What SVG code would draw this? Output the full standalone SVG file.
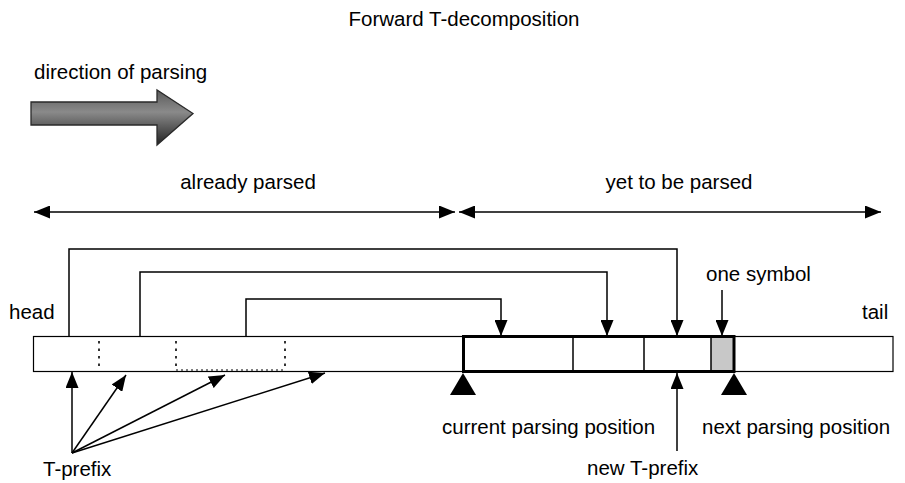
<svg xmlns="http://www.w3.org/2000/svg" width="905" height="483" viewBox="0 0 905 483">
  <style>
    text { font-family: "Liberation Sans", Arial, sans-serif; font-size: 20.5px; fill: #000; }
    .line { fill: none; stroke: #000; stroke-width: 1.5; }
    .strip { fill: #fff; stroke: #000; stroke-width: 1.2; }
    .dot { fill: none; stroke: #000; stroke-width: 1.6; stroke-dasharray: 2.5 5; }
    .dash { fill: none; stroke: #000; stroke-width: 1; stroke-dasharray: 2 3; }
    .bold { fill: none; stroke: #000; stroke-width: 3; }
    .pos { fill: #000; }
  </style>
  <defs>
    <marker id="ah" viewBox="0 0 16 13" refX="16" refY="6.5" markerWidth="16" markerHeight="13" markerUnits="userSpaceOnUse" orient="auto-start-reverse">
      <path d="M0,0 L16,6.5 L0,13 z" fill="#000"/>
    </marker>
    <linearGradient id="bigArrowFill" x1="0" y1="0" x2="0" y2="1">
      <stop offset="0" stop-color="#5a5a5a"/>
      <stop offset="0.4" stop-color="#8a8a8a"/>
      <stop offset="1" stop-color="#222"/>
    </linearGradient>
  </defs>

  <text x="464" y="26" text-anchor="middle">Forward T-decomposition</text>

  <!-- direction indicator -->
  <g id="direction">
    <text x="34" y="79">direction of parsing</text>
    <path d="M31,102 H157 V90 L193,113.5 L157,145 V125 H31 z" fill="url(#bigArrowFill)" stroke="#2a2a2a" stroke-width="1.3"/>
  </g>

  <!-- extent labels -->
  <g id="already-parsed">
    <text x="248" y="189" text-anchor="middle">already parsed</text>
  </g>
  <g id="yet-to-be-parsed">
    <text x="679" y="189" text-anchor="middle">yet to be parsed</text>
  </g>

  <!-- the symbol sequence -->
  <g id="sequence">
    <rect class="strip" x="33.5" y="336.5" width="859.5" height="35"/>
    <line class="dot" x1="99" y1="341" x2="99" y2="370"/>
    <line class="dot" x1="176" y1="341" x2="176" y2="370"/>
    <line class="dot" x1="285" y1="341" x2="285" y2="370"/>
    <line class="dash" x1="176" y1="370" x2="285" y2="370"/>
    <text x="9" y="319">head</text>
    <text x="862" y="319">tail</text>
  </g>

  <!-- current factor -->
  <g id="factor">
    <rect x="711" y="337" width="23" height="34" fill="#c8c8c8"/>
    <line class="line" x1="573" y1="337" x2="573" y2="371"/>
    <line class="line" x1="644" y1="337" x2="644" y2="371"/>
    <line class="line" x1="711" y1="337" x2="711" y2="371"/>
    <rect class="bold" x="463.5" y="336.5" width="270.5" height="35"/>
  </g>

  <g id="current-position">
    <path class="pos" d="M463,373 L476,395 L450,395 z"/>
    <text x="442" y="434">current parsing position</text>
  </g>
  <g id="next-position">
    <path class="pos" d="M734,373 L747,395 L721,395 z"/>
    <text x="702" y="434">next parsing position</text>
  </g>
  <g id="one-symbol">
    <text x="706" y="281">one symbol</text>
  </g>
  <g id="new-t-prefix">
    <text x="587" y="475">new T-prefix</text>
  </g>
  <g id="t-prefix">
    <text x="43" y="476">T-prefix</text>
  </g>

  <!-- connectors -->
  <g id="connectors">
    <line class="line" x1="34" y1="212" x2="455" y2="212" marker-start="url(#ah)" marker-end="url(#ah)"/>
    <line class="line" x1="459" y1="212" x2="881" y2="212" marker-start="url(#ah)" marker-end="url(#ah)"/>

    <path class="line" d="M69,336 V249 H677 V336" marker-end="url(#ah)"/>
    <path class="line" d="M140,336 V272 H607 V336" marker-end="url(#ah)"/>
    <path class="line" d="M246,336 V299 H501 V336" marker-end="url(#ah)"/>

    <line class="line" x1="722" y1="290" x2="722" y2="336" marker-end="url(#ah)"/>
    <line class="line" x1="677" y1="451" x2="677" y2="373" marker-end="url(#ah)"/>

    <line class="line" x1="72" y1="453" x2="72" y2="372" marker-end="url(#ah)"/>
    <line class="line" x1="72" y1="453" x2="126" y2="375" marker-end="url(#ah)"/>
    <line class="line" x1="72" y1="453" x2="225" y2="375" marker-end="url(#ah)"/>
    <line class="line" x1="72" y1="453" x2="325" y2="373" marker-end="url(#ah)"/>
  </g>
</svg>
